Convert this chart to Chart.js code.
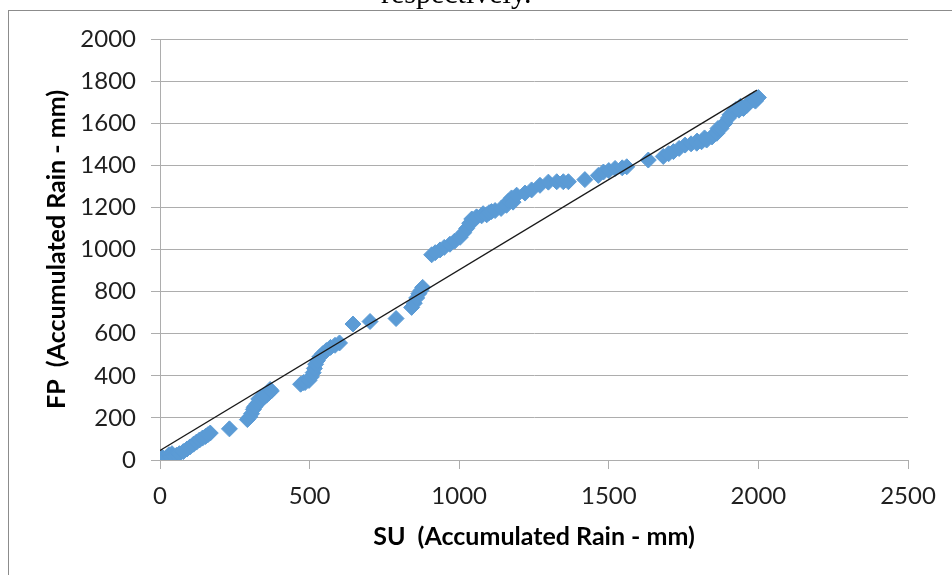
<!DOCTYPE html>
<html>
<head>
<meta charset="utf-8">
<script src="https://cdn.jsdelivr.net/npm/chart.js@4.4.1/dist/chart.umd.min.js"></script>
<style>
  html, body { margin: 0; padding: 0; background: #fff; overflow: hidden; }
  #wrap { position: relative; width: 952px; height: 575px; }
  #frame { position: absolute; left: 8px; top: 10px; width: 1100px; height: 1000px; border: 1px solid #8c8c8c; box-sizing: border-box; pointer-events: none; }
  #cap { position: absolute; left: 381px; top: -24px; font-family: "Liberation Serif", serif; font-size: 30px; color: #000; white-space: nowrap; }
  canvas { position: absolute; left: 0; top: 0; }
</style>
</head>
<body>
<div id="wrap">
  <canvas id="c" width="952" height="575"></canvas>
  <div id="frame"></div>
  <div id="cap">respectively.</div>
</div>
<script>
// SU accumulated rain (mm)
const suValues = [
  0, 5, 8, 12, 22, 30, 35, 40, 45, 55, 65, 78, 90, 100, 112, 122, 132, 142, 152, 160, 168,
  232,
  292, 300, 306, 312, 315, 318, 325, 330, 332, 340, 345, 348, 356, 360, 364, 368, 372,
  470, 480, 485, 498, 506, 512, 516, 520, 526, 534, 544, 556, 570, 585, 600,
  645, 702, 789,
  841, 850, 858, 865, 872, 878,
  908, 920, 936, 950, 969, 985, 1003, 1015, 1025, 1035, 1042, 1050, 1058, 1075, 1080, 1092, 1100, 1108, 1120, 1140,
  1158, 1165, 1175, 1180, 1192, 1220, 1242, 1270, 1298, 1326, 1348, 1365, 1420, 1465, 1482, 1500,
  1521, 1545, 1560, 1632, 1682, 1700, 1716, 1735, 1755, 1775, 1794, 1795, 1810, 1820, 1827, 1845, 1850, 1861,
  1865, 1875, 1880, 1888, 1900, 1905, 1916, 1925, 1935, 1940, 1950, 1962, 1972, 1985, 1990, 2000
];
// FP accumulated rain (mm)
const fpValues = [
  0, 2, 12, 6, 10, 25, 14, 30, 18, 22, 30, 40, 52, 62, 75, 85, 95, 104, 112, 120, 128,
  148,
  192, 205, 220, 240, 250, 255, 268, 290, 278, 288, 305, 298, 308, 320, 318, 335, 328,
  360, 368, 368, 378, 395, 415, 435, 455, 472, 490, 505, 520, 535, 545, 556,
  646, 658, 672,
  725, 745, 770, 790, 805, 820,
  975, 985, 998, 1010, 1025, 1040, 1058, 1080, 1100, 1125, 1145, 1140, 1155, 1160, 1170, 1165, 1175, 1180, 1185, 1195,
  1210, 1230, 1245, 1225, 1258, 1268, 1283, 1305, 1320, 1322, 1322, 1322, 1332, 1352, 1368, 1375,
  1385, 1388, 1393, 1425, 1442, 1455, 1465, 1480, 1496, 1502, 1505, 1515, 1512, 1530, 1520, 1535, 1545, 1552,
  1575, 1575, 1590, 1600, 1625, 1640, 1655, 1665, 1662, 1680, 1670, 1685, 1702, 1712, 1705, 1722
];
// Linear trend line end points
const trendX = [0, 1995];
const trendY = [45, 1757];

const xTicks = [0, 500, 1000, 1500, 2000, 2500];
const yTicks = [0, 200, 400, 600, 800, 1000, 1200, 1400, 1600, 1800, 2000];

const pts = suValues.map((x, i) => ({ x: x, y: fpValues[i] }));
const trend = trendX.map((x, i) => ({ x: x, y: trendY[i] }));

const tickFont = { family: "Lato", size: 24 };
const titleFont = { family: "Lato", size: 25, weight: "bold" };
const gridColor = "#adadad";

new Chart(document.getElementById("c"), {
  type: "scatter",
  data: {
    datasets: [
      {
        label: "Trend",
        type: "line",
        data: trend,
        borderColor: "#1a1a1a",
        borderWidth: 1.3,
        pointRadius: 0,
        fill: false,
        order: 0
      },
      {
        label: "FP vs SU",
        data: pts,
        pointStyle: "rectRot",
        pointRadius: 8,
        pointBackgroundColor: "#5b9bd5",
        pointBorderColor: "#5b9bd5",
        pointBorderWidth: 1,
        order: 1
      }
    ]
  },
  options: {
    responsive: false,
    animation: false,
    events: [],
    layout: { padding: { left: 0, right: 44, top: 39, bottom: 0 } },
    plugins: { legend: { display: false }, tooltip: { enabled: false } },
    scales: {
      x: {
        type: "linear",
        min: 0, max: 2500,
        afterBuildTicks: (s) => { s.ticks = xTicks.map(v => ({ value: v })); },
        afterFit: (s) => { s.height = 115; },
        grid: { drawOnChartArea: false, drawTicks: true, tickLength: 9, color: gridColor, lineWidth: 1 },
        border: { color: gridColor, width: 1 },
        ticks: { font: tickFont, color: "#1f1f1f", padding: 13, maxRotation: 0, callback: (v) => String(v) },
        title: { display: true, text: "SU  (Accumulated Rain - mm)", font: titleFont, color: "#000", padding: { top: 0, bottom: 23 } }
      },
      y: {
        type: "linear",
        min: 0, max: 2000,
        afterBuildTicks: (s) => { s.ticks = yTicks.map(v => ({ value: v })); },
        afterFit: (s) => { s.width = 160; },
        grid: { drawTicks: true, tickLength: 9, color: gridColor, lineWidth: 1 },
        border: { color: gridColor, width: 1 },
        ticks: { font: tickFont, color: "#1f1f1f", padding: 15, callback: (v) => String(v) },
        title: { display: true, text: "FP  (Accumulated Rain - mm)", font: titleFont, color: "#000", padding: { top: 42, bottom: 0 } }
      }
    }
  }
});
</script>
</body>
</html>
